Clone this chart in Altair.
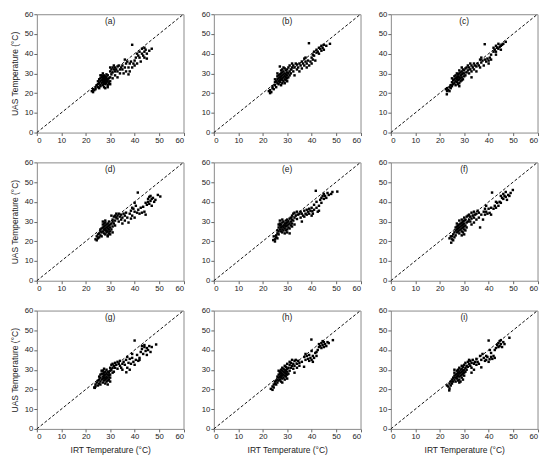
import altair as alt
import pandas as pd

ticks = [0, 10, 20, 30, 40, 50, 60]
diag = [0, 60]
panel_labels = ["(a)", "(b)", "(c)", "(d)", "(e)", "(f)", "(g)", "(h)", "(i)"]
x_title = "IRT Temperature (°C)"
y_title = "UAS Temperature (°C)"

# (IRT, UAS) pairs
a_pts = [(22.5,21),(23,20.5),(23,22),(23.5,21.5),(24,23),(24,22),(24.5,24),(25,23),(25,24.5),(25.5,22.5),
 (25.5,25),(26,24),(26,26),(26,27.5),(26.5,25),(26.5,28),(26.5,29),(27,24),(27,25.5),(27,26.5),(27,27.5),(27,28.5),
 (27.5,23),(27.5,25),(27.5,26),(27.5,27),(27.5,29),(28,24.5),(28,25.5),(28,26.5),(28,27.5),(28,28.5),(28,22.5),
 (28.5,25),(28.5,26),(28.5,27),(28.5,28),(29,24),(29,26),(29,27),(29,29),(29.5,25),(29.5,27.5),(30,26),(30,28),
 (26,23.5),(25,26),(25.5,27),(26.5,26.5),(27.5,28),(28.5,29.5),(29,23),(30,24.5),(26,29),(27,30),
 (30,31),(30.5,32),(30.5,29.5),(31,33),(31,30.5),(31.5,32),(31.5,34),(32,31),(32,33),(32.5,32),(33,33.5),(33,31),
 (33.5,34),(34,32),(34,30),(34.5,33),(35,32),(35,34),(32,29),(33,28),(31,27.5),(30,33),
 (35.5,30),(36,33),(36.5,31),(36.5,35),(37,36),(37.5,33),(37.5,29.5),(38,35),(38,31),(38.5,36),(39,33),(39,44.5),
 (39.5,35),(40,36.5),(40,34),(40.5,38),(41,35),(41.5,39),(42,38),(42,41),(42.5,36),(43,40),(43,42.5),(43.5,39),
 (44,41),(44,38),(44.5,42),(45,40),(45,37.5),(46,41.5),(47,42.5),(44,43),(41,40),(36,37)]

b_pts = [(22.5,21),(23,20),(23,21.5),(23.5,20.5),(24,22.5),(24,23.5),(24.5,22),(25,24),(25,25.5),(25.5,23),
 (25.5,26),(26,25),(26,27),(26,28.5),(26.5,24.5),(26.5,26),(26.5,27.5),(26.5,29),(27,25.5),(27,26.5),(27,28),(27,29.5),
 (27,33.5),(27.5,24),(27.5,27),(27.5,28.5),(27.5,30),(28,25),(28,26.5),(28,27.5),(28,29),(28,30.5),(28,32),
 (28.5,26),(28.5,28),(28.5,29.5),(28.5,31),(29,27),(29,28.5),(29,30),(29,32.5),(29.5,26.5),(29.5,28),(29.5,29.5),
 (29.5,31.5),(30,27.5),(30,29),(30,30.5),(30,32),(30.5,28),(30.5,30),(30.5,33),(31,29),(31,31),(31,34),(26,30),
 (25,27),(27.5,31.5),(28.5,33),(29,25),(30,26),
 (31.5,32),(31.5,30),(32,33),(32,35),(32.5,31),(32.5,34),(33,33),(33,29),(33.5,35),(34,32),(34,34.5),(34.5,33),
 (35,35),(35,31),(35.5,34),(36,36),(36,32.5),(36.5,35),(37,37.5),(37,34),(37.5,36),(37.5,38),(38,35),(38,33),(38.5,36.5),
 (38.9,45.3),(39,34),(39.5,36),(40,35),(40,38),(40.5,37),(41,39),(41.5,36.5),(42,40.5),(42,42),(42.5,41),(43,43),
 (43,40),(43.5,42.5),(44,44),(44,41.5),(44.5,43),(45,44.5),(45,42),(46,44),(47.5,45),(40.5,39.5),(41,41)]

c_pts = [(22.9,19.4),(22.5,22),(23,22.5),(23,21),(23.5,21.5),(24,23),(24,21),(24.5,24),(24.5,22.5),(25,23.5),
 (25,25.5),(25.5,24.5),(25.5,26.5),(26,25),(26,27),(26,28.5),(26.5,24),(26.5,26),(26.5,27.5),(26.5,29),(27,25.5),
 (27,27),(27,28),(27,30),(27.5,24.5),(27.5,26.5),(27.5,28.5),(27.5,29.5),(28,25),(28,27),(28,28),(28,30),(28,31.5),
 (28.5,26),(28.5,27.5),(28.5,29),(28.5,30.5),(29,26.5),(29,28),(29,29.5),(29,31),(29,33),(29.5,27),(29.5,30),
 (29.5,32),(30,28.5),(30,30),(30,31.5),(30.5,29),(30.5,32.5),(31,30.5),(31,33),(25,27.5),(28,23.5),
 (31.5,31.5),(31.5,34),(32,33),(32,30),(32.5,32),(32.5,35),(33,34),(33,31),(33.5,33),(34,35),(34,32),(34.5,34),
 (35,33.5),(35,31),(35.5,35),(36,34),(36.5,37),(36.5,33),(37,38),(37,35.5),(37.5,36.5),(33,28),
 (38.4,44.8),(38,34),(38.5,37),(39,36),(39.5,37.5),(40,36.5),(40.5,38),(41,39.5),(41,37),(42,41),(42,43),(42.5,42),
 (43,44),(43,41),(43.5,43),(44,42.5),(44,45),(44.5,43.5),(45,44),(45,42),(45.5,44.5),(46,45),(47,46),(43,39.5),(40,35)]

d_pts = [(24,21),(24.5,20.5),(24.5,22.5),(25,21.5),(25,23.5),(25.5,22),(25.5,24),(26,23),(26,25),(26.5,22.5),
 (26.5,24.5),(26.5,26.5),(27,25),(27,27),(27,28.5),(27.5,24),(27.5,26),(27.5,27.5),(27.5,29),(28,23.5),(28,25.5),
 (28,26.5),(28,28),(28,29.5),(28.5,24.5),(28.5,25.5),(28.5,27),(28.5,28.5),(29,23),(29,25),(29,26.5),(29,27.5),
 (29,29),(29.5,24),(29.5,26),(29.5,28),(29.5,30),(30,25),(30,27),(30,28.5),(30.5,26),(30.5,29),(31,27.5),(31,24.5),
 (27,30),(28,30.5),(26,26),(29,22.5),(30,23.5),(31,30),
 (31,31),(31.5,32.5),(31.5,29),(32,33),(32,30.5),(32.5,32),(32.5,34),(33,31.5),(33,33),(33.5,30),(33.5,34),
 (34,32.5),(34.5,33.5),(34.5,31),(35,32),(35,29),(35.5,34),(36,33),(36,30.5),(36.5,34.5),(37,32),(32,28),(30.5,33),
 (37.5,29.5),(38,34),(38.5,35.5),(38.5,31.5),(39,33),(39.5,36.5),(40,32),(40,35),(40.5,38),(41,34.5),(41.3,44.7),
 (41.5,36),(42,34),(42.5,37),(43,34.5),(43.5,37.5),(44,35),(44.5,33.5),(45,38.5),(45.5,40),(45.5,41.5),(46,39),
 (46,42.5),(46.5,40.5),(47,41.5),(47,38),(47.5,42),(48,40),(48.5,41),(49.5,43.5),(50.5,42.7),(46.5,43),(44.5,39.5),
 (39,37),(40,39.5)]

e_pts = [(24.3,20.6),(25,19.9),(24.5,22.5),(25,21),(25.5,23),(25.5,22),(26,24),(26,21.5),(26.5,23.5),(26,25.5),
 (26.5,25),(26.5,27),(27,26),(27,28),(27,29),(27.5,25),(27.5,27),(27.5,28.5),(28,24.5),(28,26),(28,27.5),(28,29.5),
 (28.5,25.5),(28.5,27),(28.5,28),(28.5,30),(29,24),(29,26.5),(29,28),(29,29),(29.5,25.5),(29.5,27.5),(29.5,29),
 (29.5,30.5),(30,26),(30,28),(30,29.5),(30,31),(30.5,27),(30.5,28.5),(30.5,30),(31,26.5),(31,29),(31,31.5),
 (31.5,28),(31.5,30),(32,29),(27,30.5),(28,31),(26.5,28.5),(30,24.5),(31,24),
 (31.5,32),(32,33),(32,31),(32.5,34),(32.5,30.5),(33,32),(33,34.5),(33.5,33),(34,31.3),(34,35),(34.5,33.5),
 (35,34),(35.5,35),(35.5,32),(36,34),(36.5,33),(37,35.5),(37,32.5),(32,27.5),(33,28.5),(36,30),
 (37.5,34),(38,36),(38,33.5),(38.5,35),(39,36.5),(39,34),(39.5,35.5),(40,33),(40,37),(40.3,35.2),(40.5,34),(41,36),
 (41.7,45.6),(41,38.5),(42,37),(42,40),(43,38),(43.5,41),(44,42),(44,39.5),(44.5,43),(45,41.5),(45,44),(45.5,43),
 (46,42),(46.5,44.5),(47,43.5),(48,44),(48.5,45),(50.5,45.2),(43,35.5),(42.5,35)]

f_pts = [(24.7,19.3),(24,21.5),(24.5,22.5),(25,21),(25,22.5),(25.5,20.5),(25.5,23.5),(26,22),(26,24.5),(26.5,23),
 (26.5,25.5),(26.5,27),(27,24.5),(27,26),(27,27.5),(27.5,25),(27.5,26.5),(27.5,28),(28,24),(28,25.5),(28,27),
 (28,28.5),(28.5,26),(28.5,27.5),(28.5,29),(29,25),(29,26.5),(29,28),(29,29.5),(29,31),(29.5,24.5),(29.5,27),
 (29.5,28.5),(29.5,30),(30,26),(30,27.5),(30,29),(30,30.5),(30,32),(30.5,25.5),(30.5,28),(30.5,31),(31,27),
 (31,29.5),(31,32.5),(31.5,30),(31.5,33),(28,30.5),(27,29),(30,23.5),(29,23),
 (32,31),(32,33.5),(32.5,30),(32.5,32.5),(33,34.5),(33,31.5),(33.5,33),(34,35),(34,32),(34.5,33.5),(35,34),
 (35,31),(35.5,35.5),(36,32),(36,34.5),(36.5,27),(37,33.5),(37.7,31),(33,28.5),(34,29.5),
 (38,35),(38.5,36.5),(38.5,33.5),(39,38),(39,35),(39.5,34),(40,36.5),(40.4,34.4),(41,33.5),(41,37),(41.4,44.7),
 (42,36.5),(42.5,38),(43,37),(43.5,39.5),(44,38),(44.5,40),(45,43),(45.5,42),(46,44),(46,41.5),(46.5,43),(47,45),
 (47,42.5),(47.5,41),(48,43.5),(49,44.5),(49.9,46),(48.5,43),(45,39.5),(43,40)]

g_pts = [(23.5,21),(23.7,20.8),(24,22.5),(24,21.5),(24.5,23.5),(25,22),(25,24.5),(25.5,23),(25.5,25),(26,22.5),
 (26,24),(26,26),(26,27.5),(26.5,25),(26.5,28),(27,23.5),(27,25.5),(27,26.5),(27,28),(27,29.5),(27.5,24.5),
 (27.5,26),(27.5,27),(27.5,28.5),(28,23),(28,25),(28,26),(28,27.5),(28,29),(28.5,24),(28.5,25.5),(28.5,26.5),
 (28.5,28),(28.5,30),(29,24.5),(29,26),(29,27.5),(29,29),(29.5,25),(29.5,27),(29.5,28.5),(30,26),(30,29.5),
 (26.5,29.5),(25.5,26.5),(27.5,30.5),(29,22.5),(30,24),
 (30,31),(30.5,32.5),(30.5,30),(31,33),(31,31),(31.5,29),(31.5,32),(32,33.5),(32,31),(32.5,32.5),(33,34),
 (33,30.5),(33.5,33),(34,32),(34,34.5),(34.5,31),(35,33),(35,30),(35.5,34),(36,32.5),(30,27.5),(31,28.5),
 (36.6,28.7),(36.5,35),(37,31),(37,36.5),(37.5,33.5),(38,35.5),(38,30),(38.5,33),(39,36),(39.5,34),(40,44.8),
 (40,32.5),(40.5,35),(41,37.5),(41.5,34.5),(42,36),(42.5,39),(43,40.5),(43.5,38),(44,41.5),(44,42.5),(44.5,39.5),
 (45,41),(45,37.5),(45.5,40),(46,42),(46.5,39),(47,41.5),(48.8,42.8),(43,42),(42,35),(39,38)]

h_pts = [(23.3,20.3),(24,19.8),(24,21.5),(24.5,22.5),(24.5,21),(25,23),(25,24),(25.5,22.5),(25.5,24.5),(26,23.5),
 (26,25),(26,26.5),(26.5,24.5),(26.5,26),(26.5,27.5),(27,25),(27,26.5),(27,28),(27,29),(27.5,24),(27.5,26),
 (27.5,27),(27.5,28.5),(27.5,30),(28,25.5),(28,27),(28,28),(28,29.5),(28,31),(28.5,26),(28.5,27.5),(28.5,29),
 (28.5,30.5),(29,25),(29,27),(29,28.5),(29,30),(29,32),(29.5,26.5),(29.5,28),(29.5,29.5),(29.5,31.5),(30,27.5),
 (30,29),(30,30.5),(30,33),(30.5,28),(30.5,31),(31,29.5),(31,32.5),(26.5,29.5),(28,23.5),(30,25.5),
 (31,34),(31.5,31),(31.5,33.5),(32,32),(32,35),(32.5,33),(32.5,30.5),(33,34.5),(33,32),(33.5,35),(34,33),(34,31),
 (34.5,34.5),(35,33.5),(35,32),(36,34),(36.9,31.5),(37,36.5),(37.5,38),(37.5,35),(38,37),(33,28.5),
 (38.5,35.5),(39,34.5),(39,37.5),(39.5,36),(39.9,45.3),(40,35),(40.5,34),(40.5,37),(41,36),(41.5,38.5),(42,37),
 (42.5,40),(43,41.5),(43,43),(43.5,42),(44,43.5),(44,41),(44.5,42.5),(45,44),(45,41.5),(45.5,43),(46,42),(46.5,44),
 (47,43.5),(48.7,45),(42,39),(44.5,44.5),(40,39.5)]

i_pts = [(23.9,19.5),(23,22),(23.5,21.5),(24,23),(24,20.5),(24.5,22),(24.5,24),(25,23),(25,25),(25.5,24),
 (25.5,26),(26,25),(26,27),(26,28.5),(26.5,24),(26.5,26),(26.5,27.5),(27,25.5),(27,26.5),(27,28),(27,29.5),
 (27.5,24.5),(27.5,27),(27.5,28.5),(27.5,30),(28,25),(28,26.5),(28,28),(28,29),(28,31),(28.5,24),(28.5,27),
 (28.5,28.5),(28.5,30),(29,26),(29,27.5),(29,29),(29,30.5),(29,32),(29.5,25),(29.5,28),(29.5,29.5),(29.5,31.5),
 (30,27),(30,28.5),(30,30),(30,32.5),(30.5,29),(30.5,31),(30.5,33.5),(31,30),(31,32),(26,30),(28,23.5),
 (31.5,34),(31.5,31.5),(32,33),(32,35),(32.5,32),(32.5,34.5),(33,33.5),(33,31),(33.5,35),(34,33),(34,30),
 (34.5,34),(35,32.5),(35,35.5),(35.5,34),(36,33),(36.5,37),(37,31.2),(37,35),(37.5,38),(38,36),(33,28.5),
 (38.5,34.5),(39,37),(39,35),(39.5,36.5),(40,44.8),(40,34),(40.4,35.3),(41,36.5),(41,38.5),(41.5,35.5),(42,37),
 (42.5,40),(43,41),(43.5,42.5),(44,43.5),(44,41.5),(44.5,44.5),(44.5,42),(45,43),(45,45),(45.5,41.5),(46,44),
 (46.5,43),(48.5,46.2),(42.5,36),(40.5,40)]

all_pts = [a_pts, b_pts, c_pts, d_pts, e_pts, f_pts, g_pts, h_pts, i_pts]

FONT = "Liberation Sans"
W, H = 147.5, 119


def make_panel(idx):
    pts = all_pts[idx]
    row, col = divmod(idx, 3)
    df = pd.DataFrame(pts, columns=["irt", "uas"])
    line_df = pd.DataFrame({"irt": diag, "uas": diag})
    lab_df = pd.DataFrame({"label": [panel_labels[idx]]})

    xscale = alt.Scale(domain=[0, 60], nice=False)
    yscale = alt.Scale(domain=[0, 60], nice=False)
    xaxis = alt.Axis(values=ticks, format="d")
    yaxis = alt.Axis(values=ticks, format="d")
    xt = x_title if row == 2 else None
    yt = y_title if col == 0 else None

    x_enc = alt.X("irt:Q", scale=xscale, axis=xaxis, title=xt)
    y_enc = alt.Y("uas:Q", scale=yscale, axis=yaxis, title=yt)

    line = alt.Chart(line_df).mark_line(
        color="#111", strokeDash=[3, 2], strokeWidth=1
    ).encode(x=x_enc, y=y_enc)
    points = alt.Chart(df).mark_square(
        color="black", size=6, opacity=1
    ).encode(x=x_enc, y=y_enc)
    text = alt.Chart(lab_df).mark_text(
        font=FONT, fontSize=8.5, color="#222", baseline="middle", align="center"
    ).encode(text="label:N", x=alt.value(W / 2), y=alt.value(6.5))
    return alt.layer(line, points, text).properties(width=W, height=H)


panels = [make_panel(i) for i in range(9)]

chart = alt.concat(*panels, columns=3, spacing=30, bounds="flush").properties(
    padding={"left": 1, "top": 0, "right": 2, "bottom": 0}
).configure_view(
    stroke="#8a8a8a", strokeWidth=1
).configure_axis(
    domain=False, grid=False, tickSize=3, tickColor="#666", tickWidth=1,
    labelFont=FONT, labelFontSize=7.8, labelColor="#222", labelPadding=1,
    titleFont=FONT, titleFontSize=8.5, titleFontWeight="normal", titleColor="#222",
    titlePadding=5
)

chart.save("out.html", embed_options={"renderer": "svg", "actions": False})
